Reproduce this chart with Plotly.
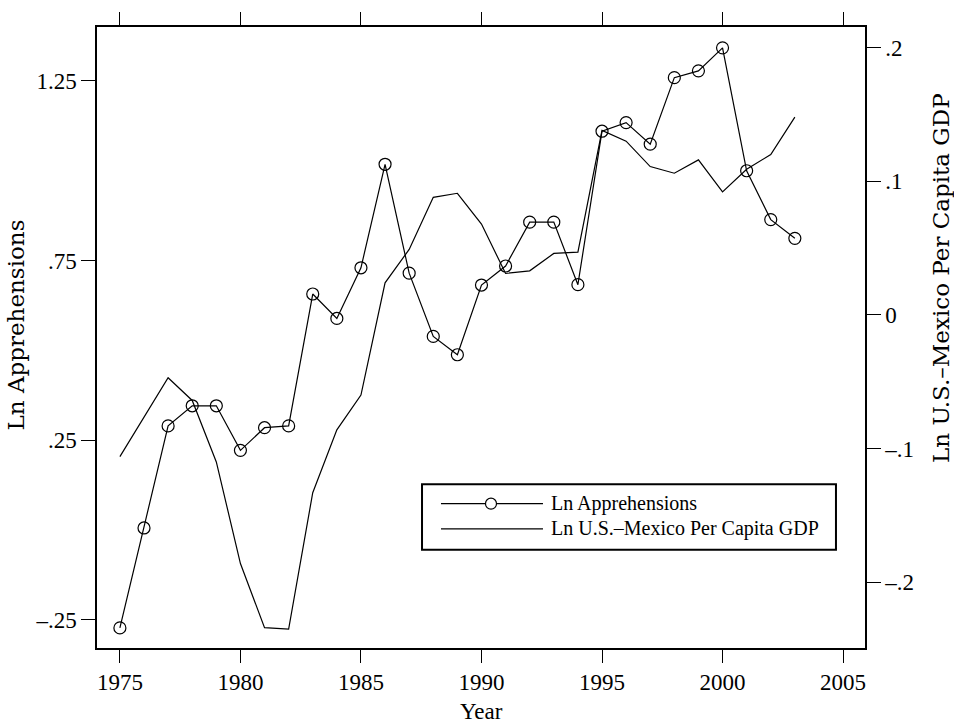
import plotly.graph_objects as go

# ---------------- data ----------------
years = list(range(1975, 2004))

ln_apprehensions = [
    -0.272, 0.006, 0.290, 0.346, 0.346, 0.222, 0.285, 0.290,
    0.657, 0.589, 0.730, 1.018, 0.715, 0.539, 0.488, 0.682,
    0.735, 0.857, 0.857, 0.683, 1.110, 1.134, 1.074, 1.259,
    1.278, 1.342, 1.000, 0.864, 0.812,
]

ln_gdp_ratio = [
    -0.106, -0.076, -0.047, -0.064, -0.110, -0.186, -0.234, -0.235,
    -0.133, -0.086, -0.060, 0.024, 0.049, 0.088, 0.091, 0.068,
    0.031, 0.033, 0.046, 0.047, 0.138, 0.130, 0.111, 0.106,
    0.116, 0.092, 0.109, 0.120, 0.148,
]

x_ticks = [1975, 1980, 1985, 1990, 1995, 2000, 2005]
y_left_ticks = [-0.25, 0.25, 0.75, 1.25]
y_left_labels = ["\u2013.25", ".25", ".75", "1.25"]
y_right_ticks = [-0.2, -0.1, 0.0, 0.1, 0.2]
y_right_labels = ["\u2013.2", "\u2013.1", "0", ".1", ".2"]

series_names = ["Ln Apprehensions", "Ln U.S.\u2013Mexico Per Capita GDP"]

# ---------------- figure ----------------
SERIF = "Liberation Serif"
TITLE_FONT = "DejaVu Serif"

fig = go.Figure()

fig.add_trace(go.Scatter(
    x=years, y=ln_apprehensions, name=series_names[0],
    mode="lines+markers",
    line=dict(color="black", width=1.2),
    marker=dict(symbol="circle-open", size=12, color="black",
                line=dict(width=1.2, color="black")),
    yaxis="y", showlegend=False,
))

fig.add_trace(go.Scatter(
    x=years, y=ln_gdp_ratio, name=series_names[1],
    mode="lines",
    line=dict(color="black", width=1.2),
    yaxis="y2", showlegend=False,
))

axis_common = dict(
    showgrid=False, zeroline=False, showline=True,
    linecolor="black", linewidth=1.5,
    ticks="outside", tickcolor="black", tickwidth=1.3,
    tickfont=dict(family=SERIF, size=23, color="black"),
)

fig.update_layout(
    width=954, height=725,
    margin=dict(l=97, r=89, t=22, b=77),
    paper_bgcolor="white", plot_bgcolor="white",
    xaxis=dict(
        range=[1974.05, 2005.91],
        tickvals=x_ticks, ticktext=[str(v) for v in x_ticks],
        ticklen=13, mirror="ticks",
        **axis_common,
    ),
    yaxis=dict(
        range=[-0.328, 1.40],
        tickvals=y_left_ticks, ticktext=y_left_labels,
        ticklen=14,
        **axis_common,
    ),
    yaxis2=dict(
        range=[-0.2492, 0.2154],
        tickvals=y_right_ticks, ticktext=y_right_labels,
        ticklen=14, overlaying="y", side="right",
        **axis_common,
    ),
)

# ---------------- axis titles ----------------
fig.add_annotation(
    text="Ln Apprehensions", textangle=-90,
    xref="paper", yref="paper", x=-0.1055, y=0.521,
    xanchor="center", yanchor="middle", showarrow=False,
    font=dict(family=TITLE_FONT, size=23, color="black"),
)
fig.add_annotation(
    text=series_names[1], textangle=-90,
    xref="paper", yref="paper", x=1.099, y=0.596,
    xanchor="center", yanchor="middle", showarrow=False,
    font=dict(family=TITLE_FONT, size=23, color="black"),
)
fig.add_annotation(
    text="Year",
    xref="paper", yref="paper", x=0.5, y=-0.102,
    xanchor="center", yanchor="middle", showarrow=False,
    font=dict(family=SERIF, size=23, color="black"),
)

# ---------------- custom legend ----------------
box = dict(x0=0.4232, x1=0.9622, y0=0.1581, y1=0.2636)
row_y = [0.2324, 0.1917]
sample_x = [0.4479, 0.5807]

fig.add_shape(type="rect", xref="paper", yref="paper",
              line=dict(color="black", width=2), fillcolor="white",
              layer="above", **box)
for ry in row_y:
    fig.add_shape(type="line", xref="paper", yref="paper",
                  x0=sample_x[0], x1=sample_x[1], y0=ry, y1=ry,
                  line=dict(color="black", width=1.2), layer="above")
fig.add_shape(type="circle", xref="paper", yref="paper",
              xsizemode="pixel", ysizemode="pixel",
              xanchor=0.513, yanchor=row_y[0],
              x0=-5.5, x1=5.5, y0=-5.5, y1=5.5,
              line=dict(color="black", width=1.2), fillcolor="white",
              layer="above")
for name, ry in zip(series_names, row_y):
    fig.add_annotation(
        text=name, xref="paper", yref="paper",
        x=0.588, y=ry, xanchor="left", yanchor="middle",
        showarrow=False,
        font=dict(family=SERIF, size=20, color="black"),
    )

fig.write_html(
    "out.html",
    config={"displayModeBar": False},
    post_script="document.body.style.margin='0px';document.body.style.overflow='hidden';",
)
